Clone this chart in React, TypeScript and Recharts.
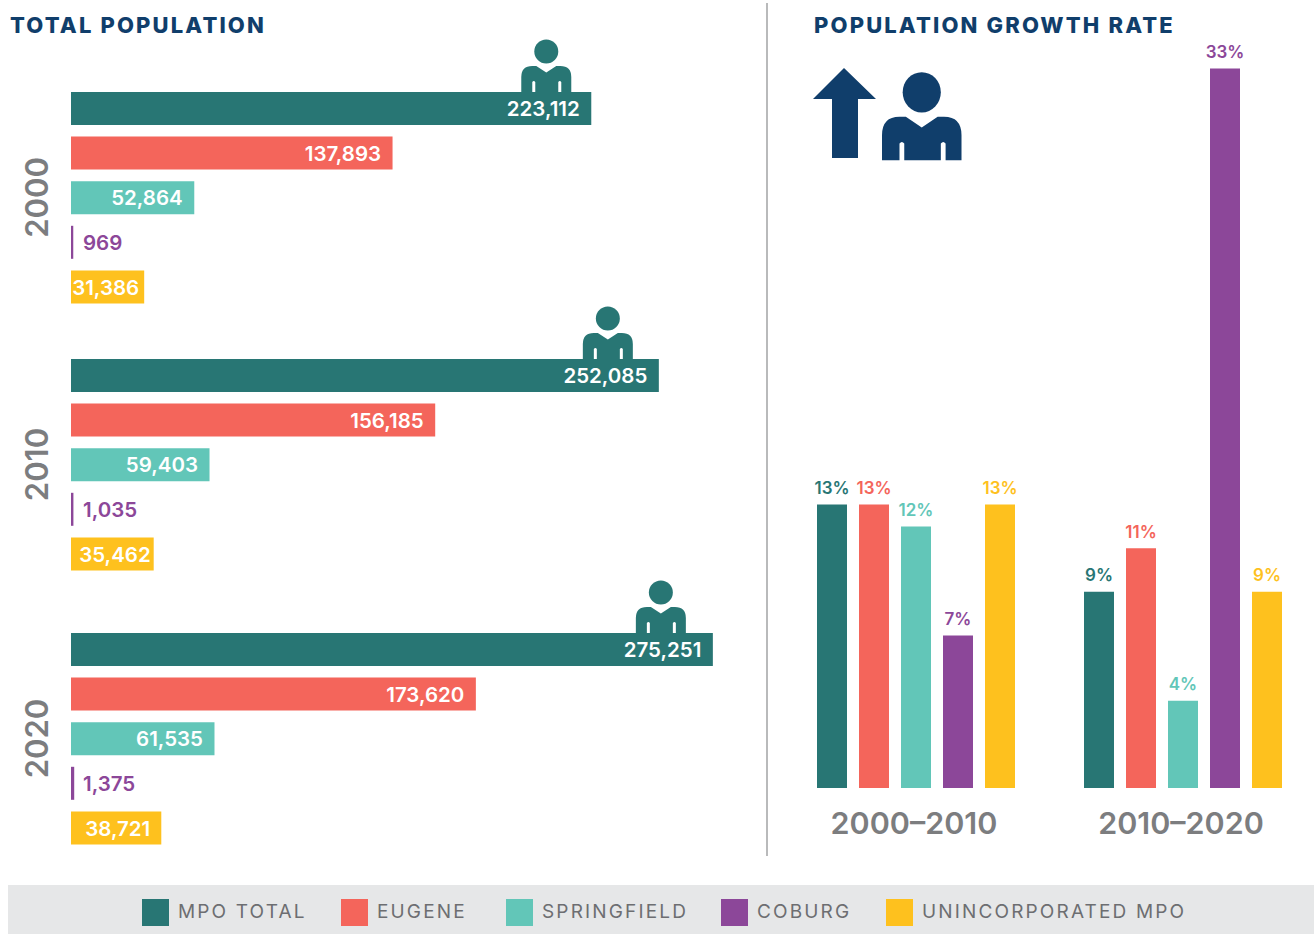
import React from 'react';
import { BarChart, Bar, XAxis, YAxis, Cell, LabelList } from 'recharts';

const categories = ['MPO TOTAL', 'EUGENE', 'SPRINGFIELD', 'COBURG', 'UNINCORPORATED MPO'];
const colors = ['#287674', '#f4655b', '#62c6b8', '#8c4799', '#fec11e'];

const population2000 = [223112, 137893, 52864, 969, 31386];
const population2010 = [252085, 156185, 59403, 1035, 35462];
const population2020 = [275251, 173620, 61535, 1375, 38721];

const growthPeriods = ['2000–2010', '2010–2020'];
const growthFirst = [13, 13, 12, 7, 13];
const growthSecond = [9, 11, 4, 33, 9];

const legendLeft = [142, 341, 506, 721, 886];

const NAVY = '#103e6b';
const GREY = '#7c7d7f';
const FONT = 'Inter, sans-serif';

// person glyph, 50 x 52 box, slits cut out of the body
const PERSON_BODY =
  'M0,52 V37 Q0,26 11,26 H15 L25,32.5 L35,26 H39 Q50,26 50,37 V52 H40 V42 Q38.5,40 37,42 V52 H14 V42 Q12.5,40 11,42 V52 Z';

const Person = ({ x, y, scaleX = 1, scaleY = 1, fill }: any) => (
  <g transform={`translate(${x},${y}) scale(${scaleX},${scaleY})`} fill={fill}>
    <circle cx={25} cy={11.5} r={12} />
    <path d={PERSON_BODY} />
  </g>
);

const PopulationPanel = ({ year, values, top, iconInset, yellowInset }: any) => {
  const rows = categories.map((name, i) => ({ name, value: values[i] }));

  // eslint-disable-next-line @typescript-eslint/no-explicit-any
  const renderLabel = (props: any) => {
    const { x, y, width, height, value, index } = props;
    const text = Number(value).toLocaleString('en-US');
    const midY = y + height / 2;
    if (index === 3) {
      return (
        <text x={x + 12} y={midY} dy="0.38em" fill={colors[3]} fontSize={20.5} fontWeight={600} fontFamily={FONT}>
          {text}
        </text>
      );
    }
    const inset = index === 4 ? yellowInset : 11.5;
    return (
      <g>
        {index === 0 && <Person x={x + width - iconInset} y={y - 52} fill={colors[0]} />}
        <text x={x + width - inset} y={midY} dy="0.38em" textAnchor="end" fill="#fff" fontSize={20.5} fontWeight={600} fontFamily={FONT}>
          {text}
        </text>
      </g>
    );
  };

  return (
    <div style={{ position: 'absolute', left: 0, top: top - 56 }}>
      <BarChart
        width={730}
        height={279}
        data={rows}
        layout="vertical"
        margin={{ top: 56, right: 7, bottom: 0, left: 0 }}
        barCategoryGap={0}
      >
        <XAxis type="number" hide domain={[0, 279600]} />
        <YAxis
          type="category"
          dataKey="name"
          width={71}
          tick={false}
          tickLine={false}
          axisLine={false}
          label={{
            value: year,
            angle: -90,
            position: 'center',
            dx: 1.5,
            fill: GREY,
            fontSize: 31,
            fontWeight: 600,
            fontFamily: FONT,
          }}
        />
        <Bar dataKey="value" barSize={33} isAnimationActive={false}>
          {rows.map((row, i) => (
            <Cell key={row.name} fill={colors[i]} />
          ))}
          <LabelList dataKey="value" content={renderLabel} />
        </Bar>
      </BarChart>
    </div>
  );
};

const growthRows = growthPeriods.map((period, g) => {
  const source = g === 0 ? growthFirst : growthSecond;
  const row: Record<string, string | number> = { period };
  categories.forEach((name, i) => {
    row[name] = source[i];
  });
  return row;
});

const titleStyle: React.CSSProperties = {
  position: 'absolute',
  top: 12,
  margin: 0,
  color: NAVY,
  fontFamily: FONT,
  fontSize: 22,
  fontWeight: 800,
  letterSpacing: 2.15,
  lineHeight: '26px',
  whiteSpace: 'nowrap',
};

export default function App() {
  return (
    <div style={{ position: 'absolute', left: 0, top: 0, width: 1314, height: 934, overflow: 'hidden', background: '#fff' }}>
      <div style={{ ...titleStyle, left: 10 }}>TOTAL POPULATION</div>
      <div style={{ ...titleStyle, left: 814 }}>POPULATION GROWTH RATE</div>

      <PopulationPanel year="2000" values={population2000} top={86} iconInset={70} yellowInset={5} />
      <PopulationPanel year="2010" values={population2010} top={353} iconInset={76} yellowInset={3} />
      <PopulationPanel year="2020" values={population2020} top={627} iconInset={77} yellowInset={11} />

      <div style={{ position: 'absolute', left: 766, top: 3, width: 2, height: 853, background: '#b9babb' }} />

      <div style={{ position: 'absolute', left: 782, top: 0 }}>
        <BarChart
          width={534}
          height={848}
          data={growthRows}
          margin={{ top: 25, right: 0, bottom: 0, left: 0 }}
          barGap={12}
          barSize={30}
        >
          <XAxis
            dataKey="period"
            height={60}
            axisLine={false}
            tickLine={false}
            tickMargin={18}
            tick={{ fill: GREY, fontSize: 30.5, fontWeight: 600, fontFamily: FONT, dx: -1.5 }}
            interval={0}
          />
          <YAxis hide domain={[0, 35]} />
          {categories.map((name, i) => (
            <Bar key={name} dataKey={name} fill={colors[i]} isAnimationActive={false}>
              <LabelList
                dataKey={name}
                position="top"
                offset={10.5}
                formatter={(v: any) => `${v}%`}
                fill={colors[i]}
                fontSize={17}
                fontWeight={600}
                fontFamily={FONT}
              />
            </Bar>
          ))}
        </BarChart>
      </div>

      {/* up arrow + person above the growth bars */}
      <svg style={{ position: 'absolute', left: 800, top: 60 }} width={180} height={110}>
        <path d="M44,8 L76,39 H58 V98 H32 V39 H13 Z" fill={NAVY} />
        <Person x={82} y={13} scaleX={1.59} scaleY={1.68} fill={NAVY} />
      </svg>

      <div style={{ position: 'absolute', left: 8, top: 885, width: 1306, height: 49, background: '#e6e7e8' }} />
      {categories.map((name, i) => (
        <div
          key={name}
          style={{ position: 'absolute', left: legendLeft[i], top: 899, display: 'flex', alignItems: 'center', height: 27 }}
        >
          <span style={{ width: 27, height: 27, background: colors[i], marginRight: 9 }} />
          <span style={{ position: 'relative', top: -1, color: '#6d6e71', fontFamily: FONT, fontSize: 19, fontWeight: 400, letterSpacing: 2.15, whiteSpace: 'nowrap' }}>
            {name}
          </span>
        </div>
      ))}
    </div>
  );
}
